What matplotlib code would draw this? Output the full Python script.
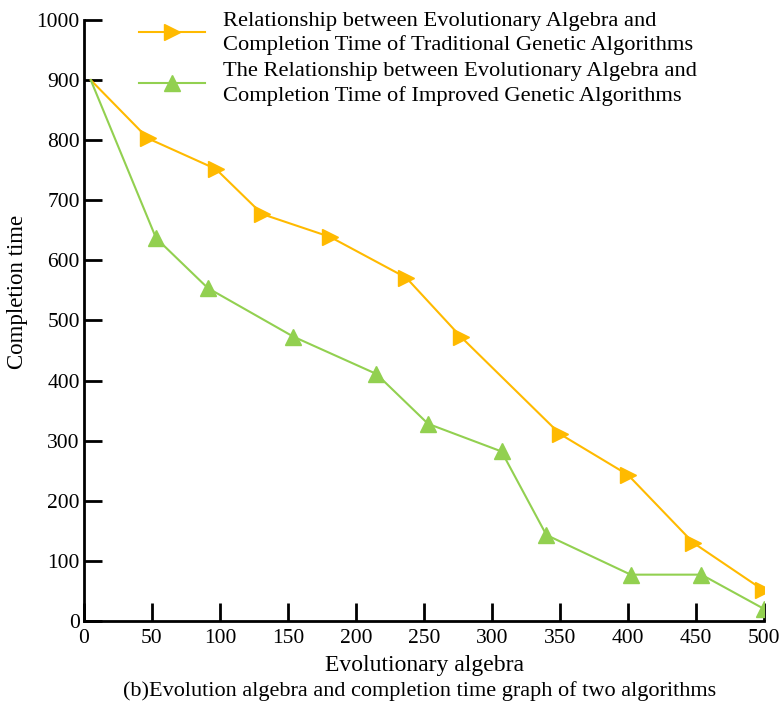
import matplotlib
matplotlib.use("Agg")
import matplotlib.pyplot as plt

plt.rcParams['font.family'] = ['Liberation Serif', 'DejaVu Serif']

# data
gen_traditional = [5, 47, 97, 131, 181, 237, 277, 350, 400, 448, 499]
time_traditional = [900, 803, 752, 677, 639, 571, 473, 311, 243, 130, 52]

gen_improved = [5, 53, 91, 154, 215, 253, 307, 340, 402, 454, 500]
time_improved = [900, 637, 554, 473, 411, 328, 282, 143, 77, 77, 20]

label_traditional = ("Relationship between Evolutionary Algebra and\n"
                     "Completion Time of Traditional Genetic Algorithms")
label_improved = ("The Relationship between Evolutionary Algebra and\n"
                  "Completion Time of Improved Genetic Algorithms")

x_ticks = list(range(0, 501, 50))
y_ticks = list(range(0, 1001, 100))

ORANGE = "#FFBA00"
GREEN = "#92D050"

fig = plt.figure(figsize=(7.82, 7.04), dpi=100)
ax = fig.add_axes([0.1074, 0.118, 0.8696, 0.8536])

# markers only on inner points, first point has none
ax.plot(gen_traditional, time_traditional, color=ORANGE, lw=1.5,
        marker=">", markersize=12, markevery=list(range(1, len(gen_traditional))),
        label=label_traditional)
ax.plot(gen_improved, time_improved, color=GREEN, lw=1.5,
        marker="^", markersize=12, markevery=list(range(1, len(gen_improved))),
        label=label_improved)

ax.set_xlim(0, 500)
ax.set_ylim(0, 1000)
ax.set_xticks(x_ticks)
ax.set_yticks(y_ticks)
ax.tick_params(direction="in", length=13, width=2, labelsize=15.5, pad=6)
ax.tick_params(axis="y", pad=3)

for s in ["top", "right"]:
    ax.spines[s].set_visible(False)
for s in ["left", "bottom"]:
    ax.spines[s].set_linewidth(2)

ax.set_xlabel("Evolutionary algebra", fontsize=17, labelpad=5)
ax.set_ylabel("Completion time", fontsize=16.5)
# label sits a bit above the axis middle in the reference
ax.yaxis.set_label_coords(-0.082, 0.547)

fig.text(0.537, 0.004, "(b)Evolution algebra and completion time graph of two algorithms",
         ha="center", va="bottom", fontsize=16)

leg = ax.legend(loc="upper left", bbox_to_anchor=(0.158, 1.006), bbox_transform=fig.transFigure,
                frameon=False, fontsize=16.2, handlelength=2.9, handletextpad=0.8,
                labelspacing=0.3, borderpad=0.2)
for t in leg.get_texts():
    t.set_linespacing(1.32)

fig.savefig("out.png", dpi=100)
